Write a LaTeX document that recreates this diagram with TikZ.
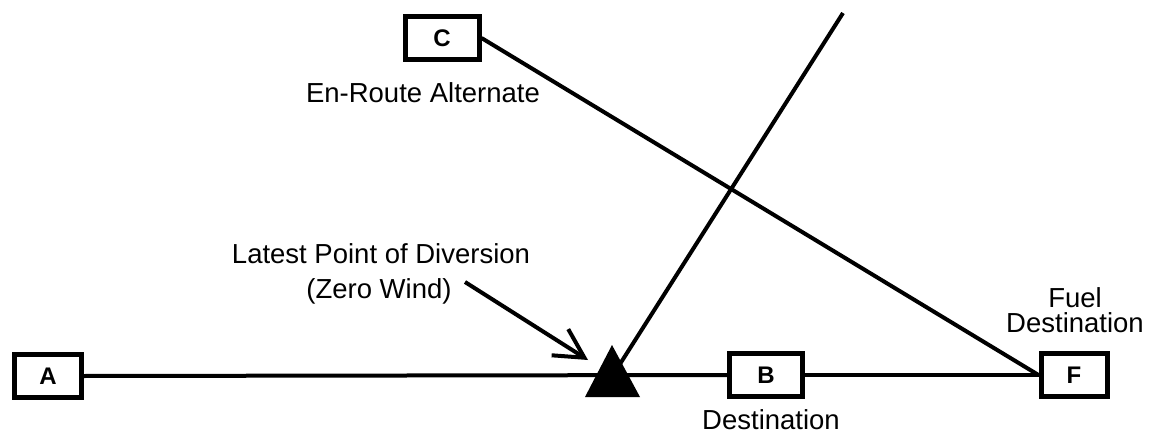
\documentclass[tikz,border=0pt]{standalone}
\usepackage{fontspec}
\setmainfont{Liberation Sans}
\usetikzlibrary{arrows.meta}
\begin{document}
\begin{tikzpicture}[x=1pt,y=-1pt,
  route/.style={line width=4pt},
  apt/.style={draw, line width=5pt, fill=white, minimum height=43pt,
    inner sep=0pt, font=\fontsize{24}{24}\selectfont\bfseries},
  lbl/.style={anchor=base, inner sep=0pt, font=\fontsize{27.5}{27.5}\selectfont}]
\useasboundingbox (0,0) rectangle (1149,433);

% airfields
\node[apt, minimum width=67pt] (A) at (48,376) {A};
\node[apt, minimum width=74pt] (C) at (442,38) {C};
\node[apt, minimum width=73pt] (B) at (766,375) {B};
\node[apt, minimum width=66pt] (F) at (1074,375) {F};

% key points
\coordinate (lpd) at (613,375);
\coordinate (track) at (843,13);
\coordinate (ptr) at (465,282);
\coordinate (ptrtip) at (588,360);

% routes
\draw[route] (A.east) -- (B.west);
\draw[route] (B.east) -- (F.west);
\draw[route] (C.east) -- (F.west);
\draw[route] (lpd) -- (track);

% latest point of diversion marker (canvas shifts: positive yshift is up)
\fill ([xshift=-28pt,yshift=-22pt]lpd) -- ([xshift=27pt,yshift=-22pt]lpd)
  -- ([xshift=-1pt,yshift=30pt]lpd) -- cycle;
\draw[route, -{Straight Barb[length=29pt,width=31pt,line width=4pt]}] (ptr) -- (ptrtip);

% labels
\node[lbl] (en) at (423,103) {En-Route Alternate};
\node[lbl] (lp1) at (381,263) {Latest Point of Diversion};
\node[lbl] (lp2) at (379,298) {(Zero Wind)};
\node[lbl] (dst) at (771,429) {Destination};
\node[lbl] (fd1) at (1075,307) {Fuel};
\node[lbl] (fd2) at (1075,332) {Destination};
\end{tikzpicture}
\end{document}
